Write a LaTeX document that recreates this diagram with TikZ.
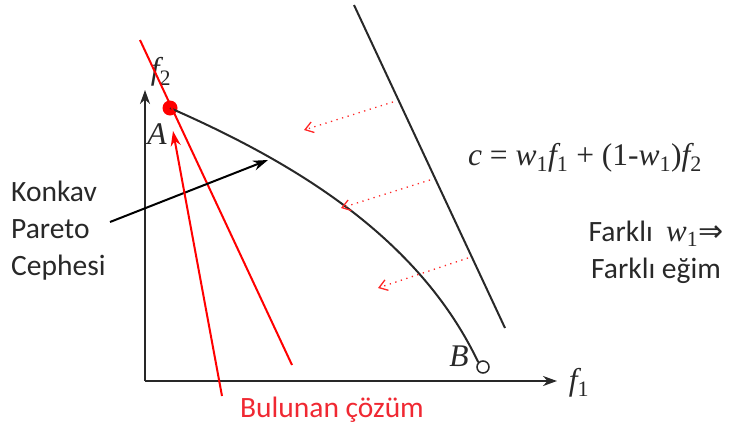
\documentclass[tikz,border=0pt]{standalone}
\usepackage{fontspec}
\setmainfont{Carlito}
\newfontfamily\timesfont{Liberation Serif}
\newfontfamily\arrowfont{DejaVu Sans}
\usepackage{tikz}
\usetikzlibrary{calc, positioning, arrows.meta}
\usepackage{xcolor}
\definecolor{frontRed}{RGB}{255, 0, 0}
\definecolor{labelRed}{RGB}{240, 40, 50}
\definecolor{inkGray}{RGB}{40, 40, 40}

\begin{document}
\begin{tikzpicture}[x=1pt, y=-1pt, >=Stealth,
  axis/.style={draw=inkGray, line width=2.2pt, -{Stealth[length=14pt, width=10pt]}},
  frontline/.style={draw=inkGray, line width=2pt},
  redline/.style={draw=frontRed, line width=2pt},
  shiftarrow/.style={draw=frontRed!85, line width=1.3pt, dash pattern=on 1.3pt off 4.5pt, -{Straight Barb[length=8pt, width=11pt, line width=1.3pt]}},
  sidetext/.style={font=\fontsize{29.5}{37}\selectfont, text=inkGray, align=left, inner sep=0pt},
  mathlabel/.style={font=\timesfont\fontsize{31.5}{34}\selectfont\itshape, text=inkGray, inner sep=0pt}]
  \useasboundingbox (0,0) rectangle (735,434);

  % axes
  \coordinate (origin) at (145,381);
  \coordinate (ytop) at (145,90);
  \coordinate (xend) at (557,381);
  \draw[axis] (origin) -- (ytop);
  \draw[axis] (origin) -- (xend);
  \node[mathlabel] (f2) at (161,72) {f\textsubscript{\upshape 2}};
  \node[mathlabel] (f1) at (579,383) {f\textsubscript{\upshape 1}};

  % end points of the front
  \node[circle, fill=frontRed, inner sep=0pt, minimum size=15pt] (A) at (170,108) {};
  \node[circle, draw=inkGray, line width=1.5pt, inner sep=0pt, minimum size=12pt] (B) at (483,367) {};
  \node[mathlabel] (Alabel) at (157,134) {A};
  \node[mathlabel] (Blabel) at (459,356) {B};

  % concave Pareto front
  \draw[frontline] (A.center) .. controls (300,165) and (420,240) .. (B.north west);

  % weighted line and its parallel shifts
  \coordinate (cTop) at (354,5);
  \coordinate (cBot) at (505,328);
  \draw[frontline] (cTop) -- (cBot);
  \coordinate (tTop) at (140,40);
  \coordinate (tBot) at (292,365);
  \draw[redline] (tTop) -- (tBot);
  \foreach \sx/\sy/\ex/\ey [count=\i] in {393/102/304/130, 430/180/341/208, 468/258/378/288}{
    \coordinate (s\i) at (\sx,\sy);
    \coordinate (e\i) at (\ex,\ey);
    \draw[shiftarrow] (s\i) -- (e\i);
  }

  % labels
  \node[mathlabel, anchor=center] (cost) at (585,158)
    {c \upshape= \itshape w\textsubscript{\upshape 1}f\textsubscript{\upshape 1} \upshape+ (1-\itshape w\textsubscript{\upshape 1}\upshape)\itshape f\textsubscript{\upshape 2}};
  \node[sidetext, align=center] (slope) at (656,252)
    {Farklı\ \ {\timesfont\fontsize{31}{34}\selectfont\itshape w\textsubscript{\upshape 1}}{\arrowfont\fontsize{30}{34}\selectfont ⇒}\\Farklı eğim};
  \node[sidetext, anchor=west] (konkav) at (11,231) {Konkav\\Pareto\\Cephesi};
  \coordinate (kStart) at (110,222);
  \coordinate (kTip) at (268,160);
  \draw[draw=black, line width=2pt, -{Stealth[length=15pt, width=10pt]}] (kStart) -- (kTip);

  \node[sidetext, text=labelRed] (found) at (332,410) {Bulunan çözüm};
  \coordinate (fStart) at (222,396);
  \coordinate (fTip) at (173,131);
  \draw[redline, -{Stealth[length=15pt, width=10pt]}] (fStart) -- (fTip);
\end{tikzpicture}
\end{document}
